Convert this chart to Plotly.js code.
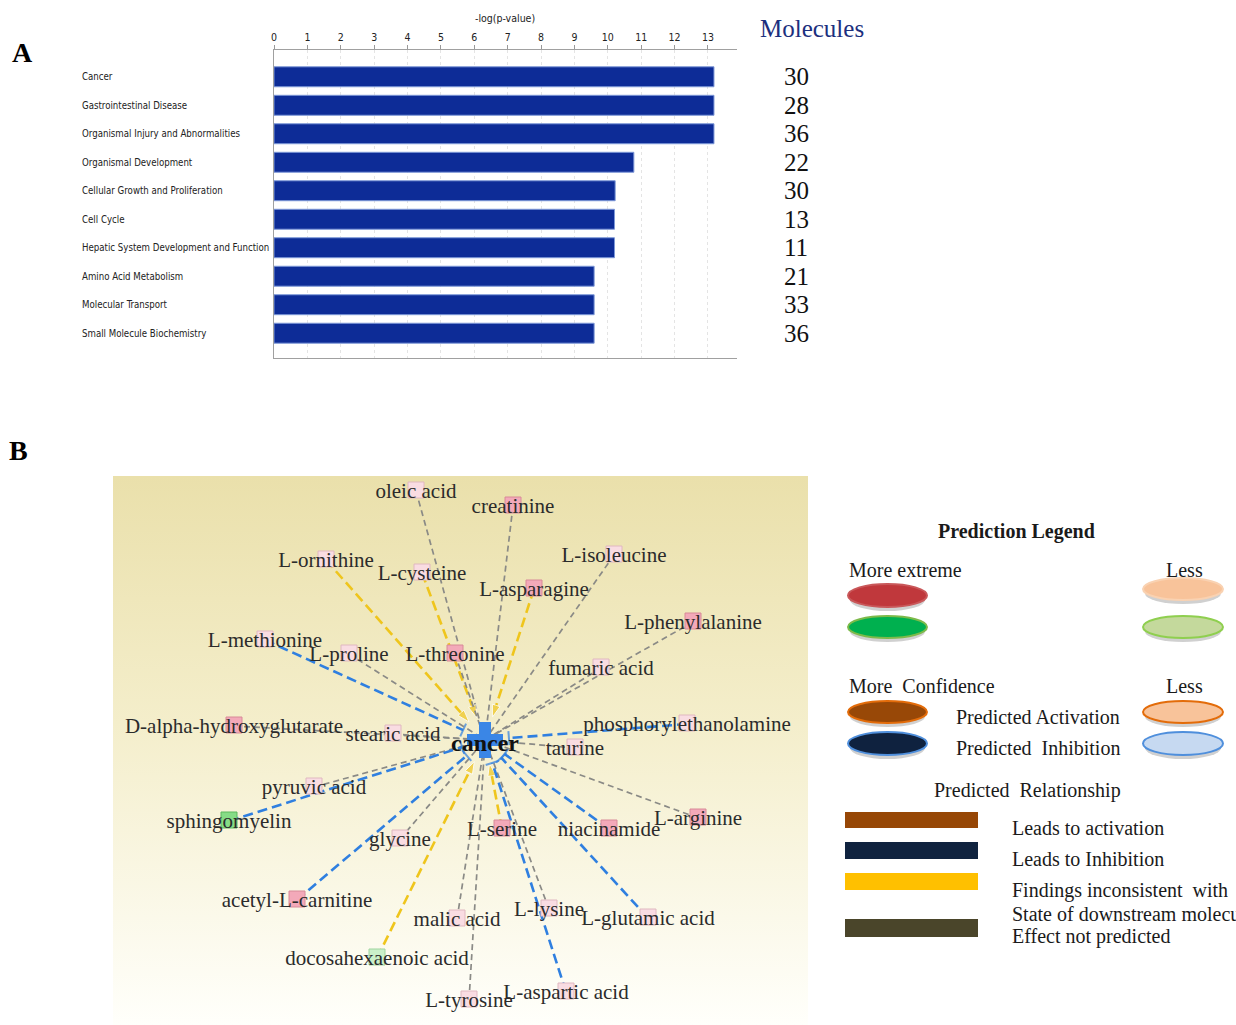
<!DOCTYPE html>
<html><head><meta charset="utf-8">
<script src="https://cdn.plot.ly/plotly-3.0.1.min.js"></script>
<style>html,body{margin:0;padding:0;background:#fff}#chart{width:1236px;height:1025px}</style>
</head><body><div id="chart"></div>
<script>
// ---------- Panel A data ----------
const categories = ["Cancer","Gastrointestinal Disease","Organismal Injury and Abnormalities","Organismal Development","Cellular Growth and Proliferation","Cell Cycle","Hepatic System Development and Function","Amino Acid Metabolism","Molecular Transport","Small Molecule Biochemistry"];
const negLogP = [13.18,13.18,13.18,10.78,10.22,10.2,10.2,9.59,9.59,9.59];
const molecules = [30,28,36,22,30,13,11,21,33,36];
const xTicks = [0,1,2,3,4,5,6,7,8,9,10,11,12,13];

// ---------- Panel B data (network, image pixel frame) ----------
const hubName = "cancer";
const hubX = 485, hubY = 740;
const nodeNames = ["oleic acid","creatinine","L-ornithine","L-cysteine","L-asparagine","L-isoleucine","L-phenylalanine","L-methionine","L-proline","L-threonine","fumaric acid","D-alpha-hydroxyglutarate","stearic acid","phosphorylethanolamine","taurine","pyruvic acid","sphingomyelin","glycine","L-serine","niacinamide","L-arginine","acetyl-L-carnitine","malic acid","L-lysine","L-glutamic acid","docosahexaenoic acid","L-tyrosine","L-aspartic acid"];
const nodeX = [416,513,326,422,534,614,693,265,349,455,601,234,393,687,575,314,229,400,502,609,698,297,457,549,648,377,469,566];
const nodeY = [491,506,560,573,589,555,622,640,654,654,668,726,734,724,748,787,821,839,829,829,818,900,919,909,918,958,1000,992];
const nodeRel = ["none","none","inconsistent","inconsistent","inconsistent","none","none","inhibition","none","none","none","none","none","inhibition","none","none","inhibition","none","inconsistent","inhibition","none","inhibition","none","none","inhibition","inconsistent","none","inhibition"];
const nodeLevel = ["low","high","low","low","high","low","high","low","low","high","low","high","low","low","low","low","green","low","high","high","high","high","low","low","low","lightgreen","low","low"];

// ---------- Legend text ----------
const legendTitle = "Prediction Legend";
const relLabels = ["Leads to activation","Leads to Inhibition","Findings inconsistent  with","Effect not predicted"];

const W = 1236, H = 1025;
const px = x => x / W, py = y => 1 - y / H;
const serif = "Liberation Serif, Times New Roman, serif";
const narrow = "Liberation Sans Narrow, Arial Narrow, DejaVu Sans Condensed, Liberation Sans, sans-serif";

const relColor = {inconsistent:"#efc51c", inhibition:"#2f7fe0", none:"#8a8a86"};
const levelColor = {high:"#f3a9b9", low:"#f9dce2", green:"#86dc86", lightgreen:"#caf0c9"};
const levelLine = {high:"#d88a98", low:"#e0b8c0", green:"#5cb85c", lightgreen:"#9fd49f"};

const traces = [];

// Bars
traces.push({type:"bar", orientation:"h", x:negLogP, y:categories, xaxis:"x", yaxis:"y",
  width:0.7, marker:{color:"#0d2c97", line:{color:"#7d98d8", width:1}}, hoverinfo:"skip"});

// Network background
traces.push({type:"scatter", x:[113,808,808,113,113], y:[476,476,1025,1025,476], xaxis:"x2", yaxis:"y2",
  mode:"lines", line:{width:0}, fill:"toself",
  fillgradient:{type:"vertical", start:476, stop:1025, colorscale:[[0,"#eae0ab"],[0.45,"#f4eecb"],[1,"#fffffb"]]},
  hoverinfo:"skip"});

// Edges
nodeNames.forEach((n,i)=>{
  const rel = nodeRel[i];
  const dx = hubX - nodeX[i], dy = hubY - nodeY[i];
  const d = Math.hypot(dx,dy);
  const r = rel === "none" ? 4 : 24;
  const ex = hubX - dx/d*r, ey = hubY - dy/d*r;
  const t = {type:"scatter", x:[nodeX[i], ex], y:[nodeY[i], ey], xaxis:"x2", yaxis:"y2",
    mode: rel === "none" ? "lines" : "lines+markers",
    line:{color:relColor[rel], width: rel === "none" ? 1.7 : 2.6, dash: rel === "none" ? "6px,4px" : "10px,5px"},
    hoverinfo:"skip"};
  if (rel === "inconsistent") t.marker = {symbol:"arrow", angleref:"previous", size:[0,13], color:relColor[rel]};
  if (rel === "inhibition") t.marker = {symbol:"line-ew", angleref:"previous", size:[0,10], color:relColor[rel], line:{color:relColor[rel], width:2}};
  traces.push(t);
});

// Node boxes
traces.push({type:"scatter", x:nodeX, y:nodeY.map(v=>v-1), xaxis:"x2", yaxis:"y2", mode:"markers",
  marker:{symbol:"square", size:16, color:nodeLevel.map(l=>levelColor[l]), line:{color:nodeLevel.map(l=>levelLine[l]), width:1}},
  hoverinfo:"skip"});
// Hub
traces.push({type:"scatter", x:[hubX], y:[hubY], xaxis:"x2", yaxis:"y2", mode:"markers",
  marker:{symbol:"cross", size:30, color:"#3a86e6", line:{width:0}}, hoverinfo:"skip"});
// Labels
traces.push({type:"scatter", x:nodeX, y:nodeY.map(v=>v+2), xaxis:"x2", yaxis:"y2", mode:"text", text:nodeNames,
  textposition:"middle center", textfont:{family:serif, size:21, color:"#2b2b2b"}, hoverinfo:"skip"});
traces.push({type:"scatter", x:[hubX], y:[hubY+5], xaxis:"x2", yaxis:"y2", mode:"text", text:["<b>"+hubName+"</b>"],
  textposition:"middle center", textfont:{family:serif, size:24, color:"#111"}, hoverinfo:"skip"});

const annotations = [];
// Category labels
categories.forEach((c,i)=>{
  annotations.push({x:px(80), xref:"paper", y:c, yref:"y", text:c, showarrow:false, xanchor:"left", yanchor:"middle",
    font:{family:narrow, size:9.6, color:"#222"}});
  annotations.push({x:px(782), xref:"paper", y:c, yref:"y", text:String(molecules[i]), showarrow:false, xanchor:"left", yanchor:"middle",
    font:{family:serif, size:25, color:"#111"}});
});
const pt = (x,y,t,font,anchor) => annotations.push({x:px(x), y:py(y), xref:"paper", yref:"paper", text:t, showarrow:false,
  xanchor:anchor||"center", yanchor:"middle", font});
pt(505,18,"-log(p-value)",{family:narrow, size:10.5, color:"#222"});
pt(812,28,"Molecules",{family:serif, size:25, color:"#1c2f7e"});
pt(22,52,"<b>A</b>",{family:serif, size:28, color:"#000"});
pt(18,451,"<b>B</b>",{family:serif, size:28, color:"#000"});

// Legend texts
const lf = {family:serif, size:20, color:"#1a1a1a"};
pt(1016,531,"<b>"+legendTitle+"</b>",lf);
pt(847,570,"More extreme",lf,"left");
pt(1184,570,"Less",lf);
pt(847,686,"More  Confidence",lf,"left");
pt(1184,686,"Less",lf);
pt(954,717,"Predicted Activation",lf,"left");
pt(954,748,"Predicted  Inhibition",lf,"left");
pt(1027,790,"Predicted  Relationship",lf);
pt(1010,828,relLabels[0],lf,"left");
pt(1010,859,relLabels[1],lf,"left");
pt(1010,890,relLabels[2],lf,"left");
pt(1010,914,"State of downstream molecule",lf,"left");
pt(1010,936,relLabels[3],lf,"left");

const shapes = [];
const ell = (x0,y0,x1,y1,fill,line,shadow) => {
  if (shadow) shapes.push({type:"circle", xref:"paper", yref:"paper", x0:px(x0+2), x1:px(x1-2), y0:py(y1+4), y1:py(y0+5),
    fillcolor:"rgba(120,120,120,0.35)", line:{width:0}, layer:"below"});
  shapes.push({type:"circle", xref:"paper", yref:"paper", x0:px(x0), x1:px(x1), y0:py(y1), y1:py(y0),
    fillcolor:fill, line:{color:line, width:2}});
};
ell(848,584,927,607,"#c0383c","#c9585a",true);
ell(848,616,927,638,"#00b04f","#7dba4a",true);
ell(1143,578,1223,600,"#f8c39a","#f9d2b2",true);
ell(1143,616,1223,638,"#c4d99c","#8fcf4f",true);
ell(848,701,927,723,"#984807","#e36c0a",true);
ell(848,732,927,755,"#0f223f","#4f8fdc",true);
ell(1143,701,1223,723,"#f8c39a","#e36c0a",true);
ell(1143,732,1223,755,"#c6d9f1","#4f8fdc",true);
const rect = (y0,y1,c) => shapes.push({type:"rect", xref:"paper", yref:"paper", x0:px(845), x1:px(978), y0:py(y1), y1:py(y0),
  fillcolor:c, line:{width:0}});
rect(812,828,"#974706");
rect(842,859,"#10233f");
rect(873,890,"#ffc000");
rect(919,937,"#4a452a");

const layout = {
  width:W, height:H, margin:{l:0,r:0,t:0,b:0}, paper_bgcolor:"#fff", plot_bgcolor:"rgba(0,0,0,0)",
  showlegend:false, font:{family:narrow},
  xaxis:{domain:[px(274), px(737)], range:[0,13.87], side:"top", tickvals:xTicks, ticks:"outside", ticklen:4,
    tickcolor:"#999", tickfont:{family:narrow, size:10.5, color:"#222"}, showline:true, linecolor:"#a0a0a0", linewidth:1,
    mirror:true, showgrid:true, gridcolor:"#e4e4e4", griddash:"dot", zeroline:false, fixedrange:true},
  yaxis:{domain:[py(358), py(50)], type:"category", categoryarray:categories, range:[9.87,-0.94],
    showticklabels:false, ticks:"", showline:true, linecolor:"#a0a0a0", showgrid:false, zeroline:false, fixedrange:true},
  xaxis2:{domain:[px(113), px(808)], range:[113,808], visible:false, fixedrange:true},
  yaxis2:{domain:[py(1025), py(476)], range:[1025,476], visible:false, fixedrange:true},
  annotations, shapes
};
Plotly.newPlot("chart", traces, layout, {displayModeBar:false, staticPlot:true});
</script></body></html>
